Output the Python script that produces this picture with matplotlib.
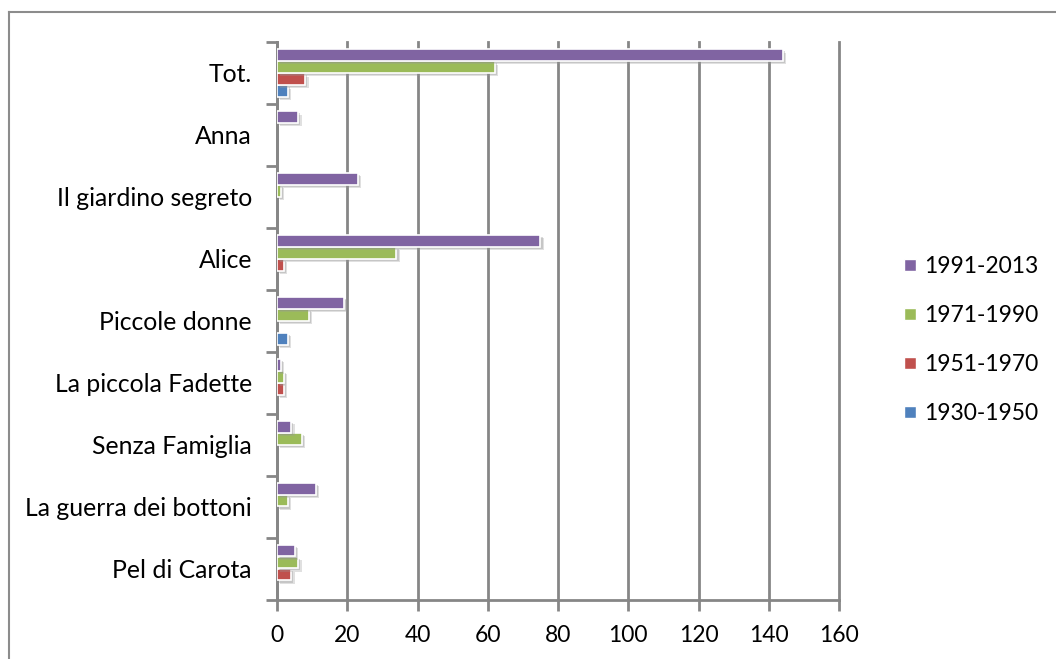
"""plot.py -- Italian children's classics, editions per period (horizontal bar chart)"""

import numpy as np
import matplotlib
matplotlib.use("Agg")
import matplotlib.pyplot as plt
import matplotlib.patheffects as pe
from matplotlib.lines import Line2D

# categories, bottom to top
titles = ["Pel di Carota", "La guerra dei bottoni", "Senza Famiglia",
          "La piccola Fadette", "Piccole donne", "Alice",
          "Il giardino segreto", "Anna", "Tot."]

# series values per title (same order as titles)
v_1930_1950 = [0, 0, 0, 0, 3, 0, 0, 0, 3]
v_1951_1970 = [4, 0, 0, 2, 0, 2, 0, 0, 8]
v_1971_1990 = [6, 3, 7, 2, 9, 34, 1, 0, 62]
v_1991_2013 = [5, 11, 4, 1, 19, 75, 23, 6, 144]

periods = ["1930-1950", "1951-1970", "1971-1990", "1991-2013"]
colors = ["#4F81BD", "#C0504D", "#9BBB59", "#8064A2"]
x_ticks = [0, 20, 40, 60, 80, 100, 120, 140, 160]

plt.rcParams['font.family'] = ["Lato", "DejaVu Sans"]
plt.rcParams['font.size'] = 16.5

fig = plt.figure(figsize=(10.56, 6.59), dpi=100)
ax = fig.add_axes([277/1056, 1 - 599.5/659, 562/1056, 557.5/659])

grey = "#868686"
y = np.arange(len(titles))
offsets = [-0.29, -0.097, 0.097, 0.29]
series = [v_1930_1950, v_1951_1970, v_1971_1990, v_1991_2013]
shadow = [pe.SimplePatchShadow(offset=(2.5, -2.5), shadow_rgbFace="#9a9a9a", alpha=0.3),
          pe.SimplePatchShadow(offset=(1.5, -1.5), shadow_rgbFace="#8a8a8a", alpha=0.3),
          pe.Normal()]

for vals, off, col in zip(series, offsets, colors):
    bars = ax.barh(y + off, vals, height=0.19, color=col,
                   edgecolor="white", linewidth=1.2, zorder=3)
    for b in bars:
        if b.get_width() > 0:
            b.set_path_effects(shadow)
        else:
            b.set_visible(False)

ax.set_xlim(0, 160)
ax.set_ylim(-0.5, len(titles) - 0.5)

# x axis
ax.set_xticks(x_ticks)
ax.tick_params(axis="x", length=8, width=2, color=grey, pad=10)
ax.grid(axis="x", color=grey, linewidth=2, zorder=0)
for gl in ax.get_xgridlines():
    gl.set_clip_on(False)

# y axis: labels at centres, ticks at boundaries
ax.set_yticks(y)
ax.set_yticklabels(titles, fontsize=17.8)
ax.tick_params(axis="y", which="major", length=0, pad=18)
ax.set_yticks(np.arange(-0.5, len(titles)), minor=True)
ax.tick_params(axis="y", which="minor", length=8, width=2, color=grey)

for s in ["top", "right"]:
    ax.spines[s].set_visible(False)
for s in ["left", "bottom"]:
    ax.spines[s].set_color(grey)
    ax.spines[s].set_linewidth(2)

# legend, newest period on top
handles = [Line2D([], [], marker="s", linestyle="none", markersize=9,
                  markerfacecolor=c, markeredgecolor="white")
           for c in colors[::-1]]
fig.legend(handles, periods[::-1], loc="center left",
           bbox_to_anchor=(878/1056, 1 - 340/659), frameon=False,
           handletextpad=0.1, labelspacing=1.22, handlelength=1.0)

# outer chart border (cropped on right and bottom)
fig.add_artist(Line2D([9/1056, 9/1056], [0, 1 - 12/659], color="#8c8c8c", linewidth=1.5))
fig.add_artist(Line2D([9/1056, 1], [1 - 12/659, 1 - 12/659], color="#8c8c8c", linewidth=1.5))

plt.savefig("out.png", dpi=100)
